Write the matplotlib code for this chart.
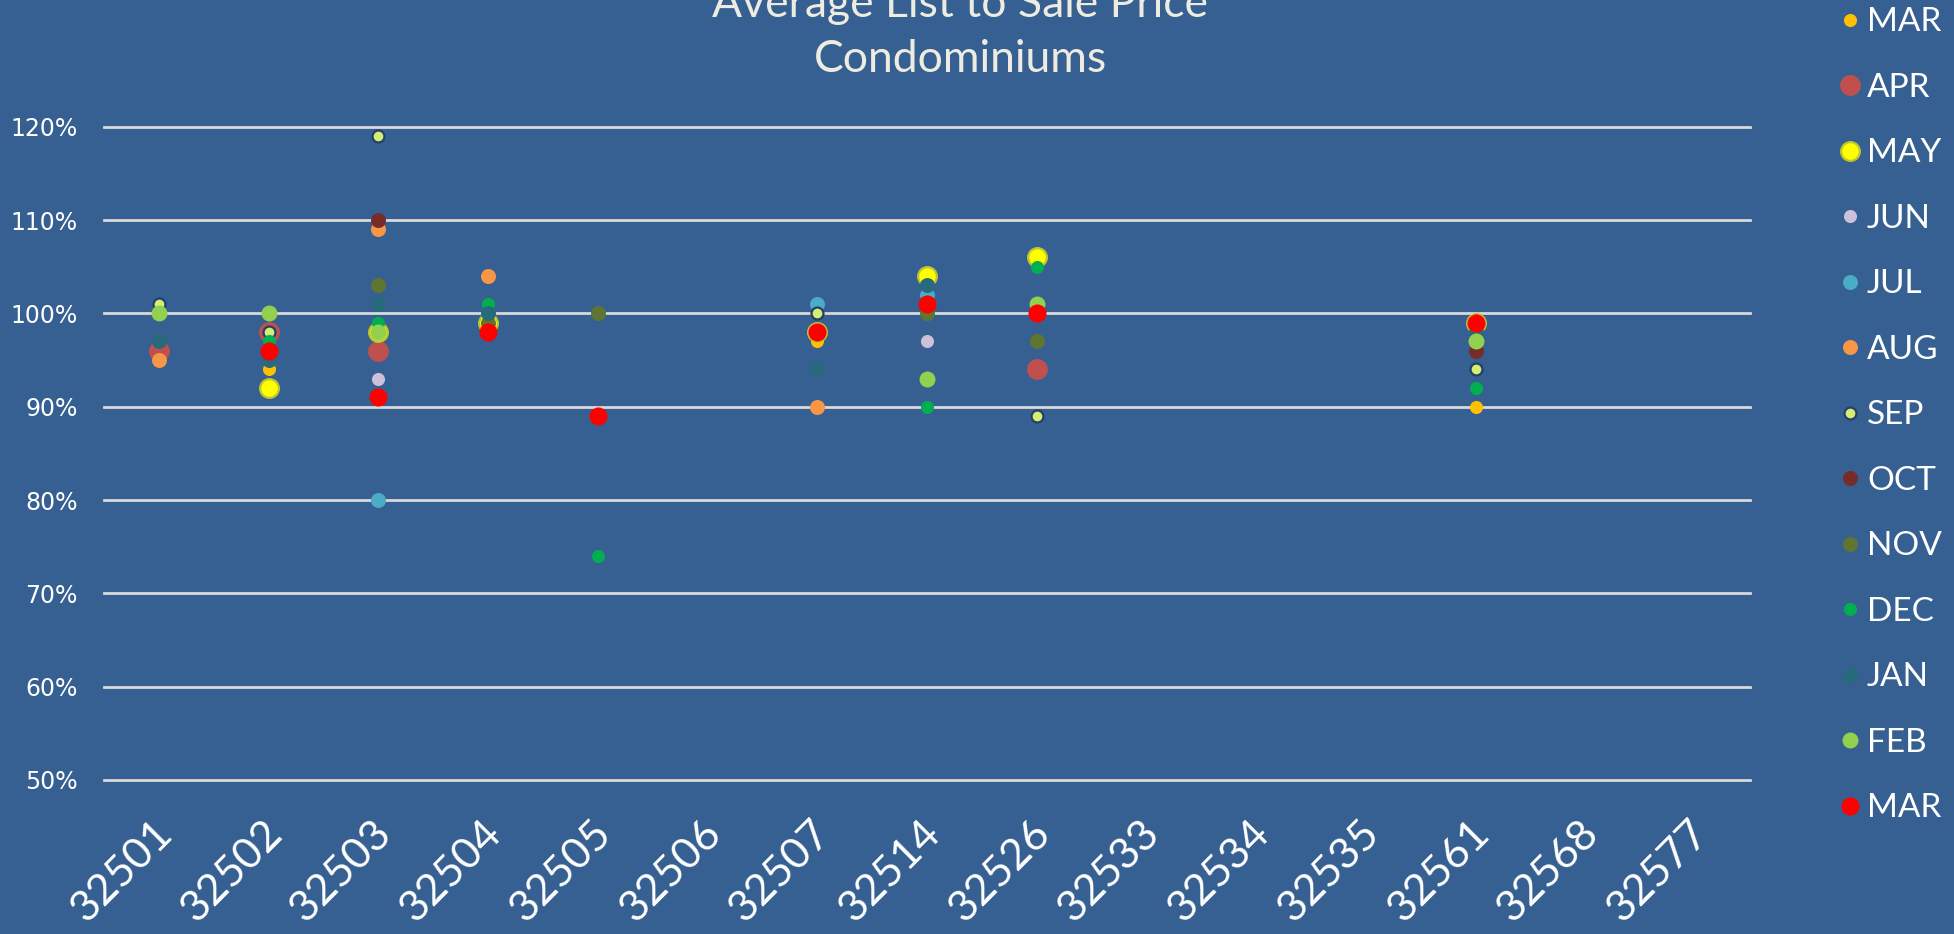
import matplotlib
matplotlib.use("Agg")
import matplotlib.pyplot as plt
import matplotlib.transforms as mtransforms
from matplotlib.ticker import PercentFormatter
import numpy as np

N = None

# ZIP CODES (X CATEGORIES)
ZIPS = ["32501", "32502", "32503", "32504", "32505", "32506", "32507", "32514",
        "32526", "32533", "32534", "32535", "32561", "32568", "32577"]

# AVERAGE LIST TO SALE PRICE PER MONTH (one value per zip, None = no sale)
MAR_1 = [N, 0.94, N, N, N, N, 0.97, N, N, N, N, N, 0.90, N, N]
APR = [0.96, 0.98, 0.96, N, N, N, N, N, 0.94, N, N, N, N, N, N]
MAY = [N, 0.92, 0.98, 0.99, N, N, 0.98, 1.04, 1.06, N, N, N, 0.99, N, N]
JUN = [N, N, 0.93, N, N, N, N, 0.97, N, N, N, N, N, N, N]
JUL = [N, N, 0.80, N, N, N, 1.01, 1.02, N, N, N, N, N, N, N]
AUG = [0.95, N, 1.09, 1.04, N, N, 0.90, N, N, N, N, N, N, N, N]
SEP = [1.01, 0.98, 1.19, N, N, N, 1.00, N, 0.89, N, N, N, 0.94, N, N]
OCT = [N, N, 1.10, N, N, N, N, N, N, N, N, N, 0.96, N, N]
NOV = [N, N, 1.03, 0.99, 1.00, N, N, 1.00, 0.97, N, N, N, N, N, N]
DEC = [N, 0.97, 0.99, 1.01, 0.74, N, N, 0.90, 1.05, N, N, N, 0.92, N, N]
JAN = [0.97, 0.95, 1.01, 1.00, N, N, 0.94, 1.03, N, N, N, N, 0.98, N, N]
FEB = [1.00, 1.00, 0.98, N, N, N, N, 0.93, 1.01, N, N, N, 0.97, N, N]
MAR_2 = [N, 0.96, 0.91, 0.98, 0.89, N, 0.98, 1.01, 1.00, N, N, N, 0.99, N, N]

MONTHS = ["MAR", "APR", "MAY", "JUN", "JUL", "AUG", "SEP", "OCT", "NOV", "DEC", "JAN", "FEB", "MAR"]
SERIES = [MAR_1, APR, MAY, JUN, JUL, AUG, SEP, OCT, NOV, DEC, JAN, FEB, MAR_2]

# STYLE: face colour, marker size (pt), edge colour
COLORS = ["#FFC000", "#C0504D", "#FFFF00", "#CCC0DA", "#4BACC6", "#F79646", "#D4EE74",
          "#772C2A", "#617532", "#00B050", "#276A7C", "#92D050", "#FF0000"]
SIZES = [9.4, 15, 13.5, 9.4, 10.8, 10.8, 8.6, 10.8, 10.8, 9.4, 10.8, 11.5, 13]
EDGES = [None, None, "#BFC530", None, None, None, "#23406A", None, None, None, None, None, None]

BG = "#366092"
GRID = "#D9D9D9"
TXT = "#FFFFFF"
TITLE_COLOR = "#EEECE1"


def plot_list_to_sale():
    fig = plt.figure(figsize=(19.54, 9.34), dpi=100, facecolor=BG)
    ax = fig.add_axes([0.0532, 0.1649, 0.8424, 0.6994], facecolor=BG)

    x = np.arange(len(ZIPS))
    for i, values in enumerate(SERIES):
        y = np.array([np.nan if v is None else v for v in values], dtype=float)
        ec = EDGES[i] if EDGES[i] else COLORS[i]
        mew = 1.6 if EDGES[i] else 0
        ax.plot(x, y, linestyle="none", marker="o", markersize=SIZES[i],
                markerfacecolor=COLORS[i], markeredgecolor=ec, markeredgewidth=mew,
                label=MONTHS[i], zorder=3 + i, clip_on=False)

    ax.set_xlim(-0.5, len(ZIPS) - 0.5)
    ax.set_ylim(0.5, 1.2)
    ax.set_yticks(np.arange(0.5, 1.21, 0.1))
    ax.yaxis.set_major_formatter(PercentFormatter(1.0, decimals=0))
    ax.yaxis.grid(True, color=GRID, linewidth=2, zorder=1)
    for gl in ax.get_ygridlines():
        gl.set_clip_on(False)
    for s in ax.spines.values():
        s.set_visible(False)

    ax.tick_params(axis="y", length=0, pad=19, labelcolor=TXT, labelsize=17)
    ax.tick_params(axis="x", length=0, pad=0, labelcolor=TXT)
    ax.set_xticks(x)
    ax.set_xticklabels(ZIPS, rotation=45, ha="right", va="center", rotation_mode="anchor",
                       fontsize=31, family=["Lato", "DejaVu Sans"])
    off = mtransforms.ScaledTranslation(0.07, -0.47, fig.dpi_scale_trans)
    for lab in ax.get_xticklabels():
        lab.set_transform(lab.get_transform() + off)

    # TITLE (first line runs off the top, as in the original)
    fig.text(0.4914, 0.9818, "Average List to Sale Price", ha="center", va="baseline",
             fontsize=32, color=TITLE_COLOR, family=["Lato", "DejaVu Sans"])
    fig.text(0.4914, 0.9229, "Condominiums", ha="center", va="baseline",
             fontsize=32, color=TITLE_COLOR, family=["Lato", "DejaVu Sans"])

    leg = ax.legend(loc="upper left", bbox_to_anchor=(0.933, 1.010), bbox_transform=fig.transFigure,
                    frameon=False, numpoints=1, handlelength=0.6, handletextpad=0.22,
                    labelspacing=1.065, borderpad=0, prop={"family": "Lato", "size": 24})
    for t in leg.get_texts():
        t.set_color(TXT)

    fig.savefig("out.png", dpi=100, facecolor=BG)


if __name__ == "__main__":
    plot_list_to_sale()
